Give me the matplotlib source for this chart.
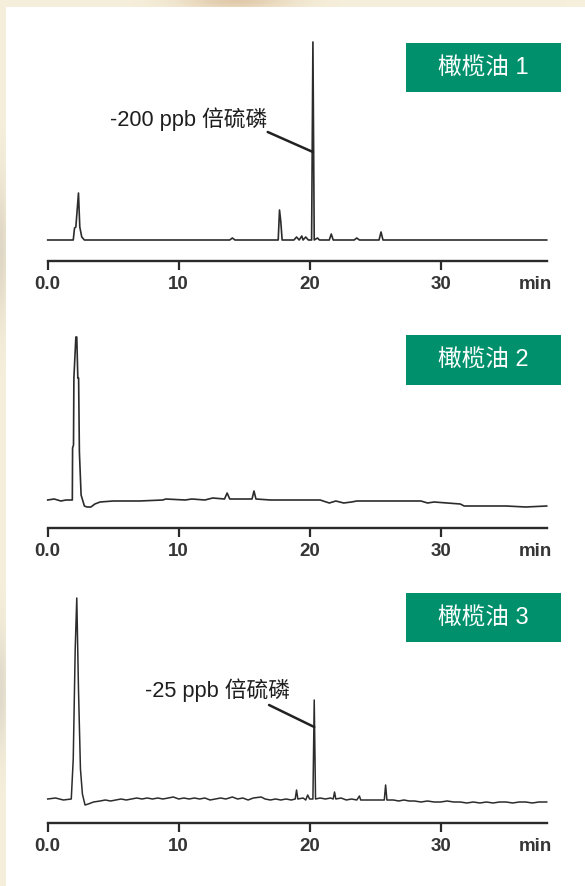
import matplotlib
matplotlib.use("Agg")
import matplotlib.pyplot as plt
import numpy as np
from matplotlib.patches import Rectangle

# ---- chromatogram traces: retention time (min) and detector response (a.u.) ----
time_1 = [0.0, 1.0, 1.95, 2.05, 2.15, 2.25, 2.35, 2.45, 2.6, 2.8, 6.0, 10.0,
          13.9, 14.1, 14.3, 17.0, 17.6, 17.7, 17.8, 17.9, 18.0, 18.8, 19.0,
          19.2, 19.4, 19.5, 19.7, 19.9, 20.15, 20.25, 20.35, 20.6, 20.75,
          21.5, 21.65, 21.8, 23.4, 23.6, 23.8, 25.3, 25.45, 25.6, 30.0, 38.1]
signal_1 = [0, 0, 0, 12, 13, 30, 47, 13, 3, 0, 0, 0,
            0, 2, 0, 0, 0, 30, 18, 0, 0, 0, 3,
            0, 4, 0, 3, 0, 0, 198, 0, 2, 0,
            0, 6, 0, 0, 2, 0, 0, 8, 0, 0, 0]

time_2 = [0.0, 0.5, 1.0, 1.4, 1.88, 1.9, 1.97, 2.0, 2.15, 2.22, 2.3, 2.36,
          2.42, 2.55, 2.8, 3.0, 3.3, 3.6, 4.0, 5.0, 7.0, 8.8, 9.0, 10.5, 11.0,
          12.0, 12.6, 13.5, 13.7, 13.9, 15.0, 15.6, 15.75, 15.9, 17.0, 19.5,
          20.8, 21.5, 22.0, 22.6, 23.2, 23.6, 25.0, 28.5, 29.0, 29.5, 30.5,
          31.5, 31.8, 33.0, 35.0, 36.5, 38.1]
signal_2 = [0, 1, -1, 0, 0, 52, 55, 122, 163, 163, 122, 122,
            48, 5, -6, -7, -7, -4, -2, -1, -1, 0, 1, 0, 1,
            0, 2, 1, 7, 1, 1, 1, 9, 1, 0, 0,
            0, -3, -1, -3, -2, -1, -1, -1, -3, -2, -3,
            -4, -6, -6, -6, -7, -6]

time_3 = [0.0, 0.6, 1.2, 1.8, 1.95, 2.1, 2.22, 2.35, 2.5, 2.65, 2.85,
          3.1, 3.5, 4.0, 4.4, 4.8, 5.2, 5.6, 6.0, 6.4, 6.8, 7.2, 7.6, 8.0,
          8.4, 8.8, 9.2, 9.6, 10.0, 10.4, 10.8, 11.2, 11.6, 12.0, 12.4, 12.8,
          13.2, 13.6, 14.1, 14.5, 14.9, 15.3, 15.7, 16.3, 16.6, 17.0, 17.4,
          17.8, 18.2, 18.6, 18.9, 19.0, 19.1, 19.5, 19.7, 19.85, 20.0, 20.25,
          20.35, 20.45, 20.8, 21.2, 21.6, 21.8, 21.9, 22.0, 22.4, 22.8, 23.2,
          23.6, 23.8, 23.9, 24.3, 24.8, 25.2, 25.7, 25.8, 25.9, 26.4, 26.8,
          27.2, 27.6, 28.0, 28.5, 29.0, 29.5, 30.0, 30.5, 31.0, 31.5, 32.0,
          32.5, 33.0, 33.5, 34.0, 34.5, 35.0, 35.5, 36.0, 36.5, 37.0, 37.5, 38.1]
signal_3 = [0, 1, -1, 0, 40, 150, 201, 110, 30, 5, -6,
            -5, -3, -2, -1, -2, -1, 0, -1, 0, 1, 0, 1, 0,
            1, 0, 1, 2, 0, 1, 0, 1, 0, 1, -1, 0,
            1, 0, 2, 0, 1, -1, 1, 2, 0, -1, 0,
            -1, 0, -1, 0, 9, 0, 1, -1, 4, 0, 0,
            99, 0, 1, 0, 1, 0, 7, 0, 1, -1, 0,
            -1, 3, -1, -1, -1, -1, -1, 14, -1, -1, -2,
            -1, -2, -2, -3, -2, -3, -3, -2, -3, -3, -4,
            -3, -4, -3, -4, -3, -3, -4, -3, -3, -4, -3, -3]

tick_values = [0, 10, 20, 30]
tick_labels = ["0.0", "10", "20", "30"]
sample_names = ["橄榄油 1", "橄榄油 2", "橄榄油 3"]

# fenthion labels: (text, peak time, response where leader meets peak)
label_1 = ("-200 ppb 倍硫磷", 20.25, 88)
label_3 = ("-25 ppb 倍硫磷", 20.35, 72)

# ---- figure ----
W, H = 585, 886
fig = plt.figure(figsize=(W / 100, H / 100), dpi=100)
fig.patch.set_facecolor("#f5eed9")

def fx(x):
    return x / W

def fy(y):
    return 1 - y / H

# soft cream backdrop with a few warm shadows along the edges
yy, xx = np.mgrid[0:H, 0:W].astype(float)
base = np.array([246, 239, 219], float) / 255
bg = np.ones((H, W, 3)) * base
for (cx, cy, sx, sy, col, k) in [
        (235, 0, 55, 10, (222, 198, 165), 0.9),
        (0, 250, 8, 70, (214, 205, 188), 0.7),
        (0, 690, 8, 60, (208, 204, 192), 0.6)]:
    w = k * np.exp(-((xx - cx) / sx) ** 2 - ((yy - cy) / sy) ** 2)
    bg = bg * (1 - w[..., None]) + np.array(col, float)[None, None, :] / 255 * w[..., None]
bg_ax = fig.add_axes([0, 0, 1, 1], zorder=-10)
bg_ax.imshow(bg, aspect="auto", interpolation="bilinear")
bg_ax.axis("off")

# white page
fig.patches.append(Rectangle((fx(6), 0), fx(W - 6), fy(7), transform=fig.transFigure,
                             facecolor="white", edgecolor="none", zorder=-5))

LATIN_CJK = ["Liberation Sans", "Noto Sans CJK SC"]
TRACE = "#2c2c2c"
GREEN = "#00906b"

def make_axes(top, bottom, baseline):
    left, right = 47.7, 546.7
    ax = fig.add_axes([fx(left), fy(bottom), fx(right - left), (bottom - top) / H])
    ax.set_zorder(1)
    ax.set_xlim(0, 38.1)
    ax.set_ylim(-(bottom - baseline), baseline - top)
    ax.patch.set_alpha(0)
    for s in ("left", "right", "top"):
        ax.spines[s].set_visible(False)
    ax.spines["bottom"].set_linewidth(1.7)
    ax.spines["bottom"].set_color("#2a2a2a")
    ax.set_yticks([])
    ax.set_xticks(tick_values, tick_labels)
    ax.tick_params(axis="x", which="major", direction="out", length=6.5, width=1.6,
                   color="#2a2a2a", pad=4.5, labelsize=13.5, labelcolor="#353535")
    ax.set_xticks([37.2], ["min"], minor=True)
    ax.tick_params(axis="x", which="minor", length=0, pad=11, labelsize=13.5,
                   labelcolor="#353535")
    for lab in ax.get_xticklabels() + ax.get_xticklabels(minor=True):
        lab.set_fontfamily("Liberation Sans")
        lab.set_fontweight("bold")
    return ax

def name_box(top, bottom, text):
    fig.patches.append(Rectangle((fx(406), fy(bottom)), fx(155), (bottom - top) / H,
                                 transform=fig.transFigure, facecolor=GREEN,
                                 edgecolor="none", zorder=2))
    fig.text(fx(483.5), fy((top + bottom) / 2), text, color="white", fontsize=17,
             family=LATIN_CJK, ha="center", va="center", zorder=3)

def fenthion(ax, label, text_x, text_y, lead_x, lead_y):
    txt, t_peak, y_hit = label
    ax.text(text_x, text_y, txt, family=LATIN_CJK, fontsize=15.7, color="#1e1e1e",
            ha="left", va="center")
    ax.annotate("", xy=(t_peak, y_hit), xytext=(lead_x, lead_y),
                arrowprops=dict(arrowstyle="-", lw=1.8, color="#222222",
                                shrinkA=0, shrinkB=0))

# panel 1
ax1 = make_axes(42, 261, 240)
ax1.plot(time_1, signal_1, color=TRACE, lw=1.2, clip_on=False)
fenthion(ax1, label_1, 4.75, 121, 16.8, 108)
name_box(43, 92, sample_names[0])

# panel 2
ax2 = make_axes(337, 528, 500)
ax2.plot(time_2, signal_2, color=TRACE, lw=1.2, clip_on=False)
name_box(335, 385, sample_names[1])

# panel 3
ax3 = make_axes(598, 823, 799)
ax3.plot(time_3, signal_3, color=TRACE, lw=1.1, clip_on=False)
fenthion(ax3, label_3, 7.4, 109, 16.9, 94)
name_box(593, 642, sample_names[2])

fig.savefig("out.png", dpi=100, facecolor=fig.get_facecolor())
